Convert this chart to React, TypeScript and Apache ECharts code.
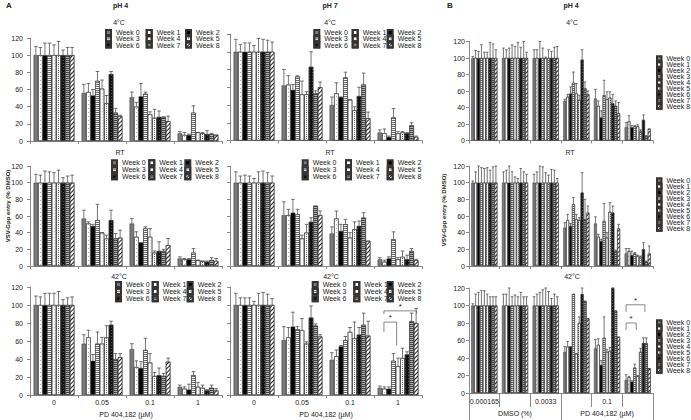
import React, { useEffect, useRef } from 'react';
import * as echarts from 'echarts';

const FONT = '"Liberation Sans", Arial, sans-serif';

const weeks = ['Week 0', 'Week 1', 'Week 2', 'Week 3', 'Week 4', 'Week 5', 'Week 6', 'Week 7', 'Week 8'];
const doseA = ['0', '0.05', '0.1', '1'];
const doseB = ['0.000165', '', '0.0033', '', '0.1', ''];
const groupB = ['DMSO (%)', 'PD 404,182 (µM)'];
const Y_MIN = 0;
const Y_MAX = 120;
const Y_STEP = 20;
const H = [100, 100, 100, 100, 100, 100, 100, 100, 100];

// values [dose group][week]
const pH4_4C_val = [H, [56, 57, 53, 70, 61, 44, 78, 33, 29], [51, 40, 52, 55, 31, 27, 28, 28, 23], [9, 7, 7, 33, 10, 9, 8, 8, 7]];
const pH4_4C_err = [[10, 9, 14, 14, 12, 16, 6, 9, 9], [10, 10, 7, 11, 10, 9, 3, 5, 1], [6, 5, 15, 2, 3, 10, 7, 0, 6], [2, 3, 1, 8, 0, 1, 4, 1, 0]];

const pH4_RT_val = [H, [57, 51, 48, 55, 40, 33, 55, 33, 34], [51, 35, 28, 45, 35, 16, 18, 18, 25], [9, 8, 8, 16, 7, 6, 5, 7, 6]];
const pH4_RT_err = [[10, 9, 14, 13, 12, 15, 6, 8, 9], [10, 2, 2, 19, 0, 4, 12, 6, 9], [6, 6, 0, 2, 10, 2, 11, 2, 8], [2, 1, 1, 5, 0, 0, 1, 3, 3]];

const pH4_42C_val = [H, [57, 64, 38, 57, 57, 64, 78, 40, 42], [51, 31, 30, 50, 36, 21, 22, 21, 37], [9, 7, 6, 22, 9, 8, 5, 8, 5]];
const pH4_42C_err = [[10, 9, 13, 13, 13, 15, 6, 8, 9], [10, 8, 7, 13, 7, 13, 4, 6, 4], [6, 7, 7, 13, 10, 4, 8, 3, 4], [2, 2, 6, 4, 5, 3, 1, 3, 2]];

const pH7_4C_val = [H, [62, 63, 57, 72, 52, 52, 83, 53, 60], [40, 53, 49, 71, 46, 34, 50, 63, 25], [9, 8, 4, 26, 8, 9, 8, 17, 4]];
const pH7_4C_err = [[14, 8, 10, 10, 7, 15, 14, 13, 11], [18, 10, 6, 1, 15, 3, 17, 3, 6], [9, 12, 0, 6, 0, 4, 10, 13, 7], [3, 5, 1, 10, 2, 1, 1, 3, 1]];

const pH7_RT_val = [H, [61, 61, 64, 62, 33, 40, 53, 72, 61], [39, 57, 42, 50, 34, 44, 48, 58, 30], [8, 5, 9, 32, 8, 11, 8, 18, 7]];
const pH7_RT_err = [[13, 8, 9, 8, 5, 13, 14, 12, 8], [16, 7, 16, 6, 4, 10, 5, 0, 5], [8, 9, 8, 6, 6, 9, 6, 6, 0], [2, 2, 2, 9, 2, 7, 5, 3, 1]];

const pH7_42C_val = [H, [61, 64, 76, 73, 72, 57, 86, 77, 65], [39, 43, 54, 61, 70, 63, 67, 78, 66], [8, 7, 7, 38, 32, 41, 45, 82, 80]];
const pH7_42C_err = [[13, 8, 8, 8, 4, 13, 14, 12, 7], [15, 11, 16, 3, 13, 2, 13, 2, 2], [8, 7, 1, 4, 5, 18, 8, 13, 16], [2, 2, 2, 8, 9, 11, 3, 9, 16]];
// [group, fromWeek, toWeek, bracketTop, leftEnd, rightEnd]
const pH7_42C_sig = [[3, 0.9, 3.7, 81, 70, 55], [3, 0.9, 8.1, 93.5, 90, 90.6]];

const B_4C_val = [H, H, H, [48, 53, 57, 70, 57, 49, 98, 63, 56], [51, 42, 28, 55, 50, 52, 45, 42, 33], [16, 23, 16, 17, 17, 11, 25, 5, 14]];
const B_4C_err = [[2, 9, 8, 16, 7, 7, 19, 17, 10], [12, 10, 12, 16, 14, 19, 13, 20, 7], [10, 10, 20, 12, 1, 10, 8, 13, 14], [2, 3, 8, 13, 12, 6, 12, 8, 4], [11, 6, 8, 18, 9, 7, 11, 6, 13], [6, 7, 2, 1, 2, 2, 6, 1, 0]];

const B_RT_val = [H, H, H, [46, 55, 48, 74, 56, 55, 88, 56, 64], [51, 35, 30, 54, 34, 65, 64, 18, 45], [15, 18, 13, 15, 12, 11, 20, 5, 15]];
const B_RT_err = [[2, 13, 20, 18, 17, 18, 15, 19, 20], [13, 15, 20, 13, 7, 5, 17, 13, 10], [10, 13, 20, 19, 12, 9, 16, 15, 5], [6, 7, 3, 8, 6, 3, 24, 24, 8], [8, 3, 2, 21, 6, 11, 8, 1, 5], [6, 3, 5, 1, 1, 1, 8, 1, 9]];

const B_42C_val = [H, H, H, [47, 53, 53, 113, 45, 80, 113, 105, 85], [51, 55, 32, 63, 47, 48, 120, 94, 64], [15, 18, 13, 29, 19, 47, 57, 57, 28]];
const B_42C_err = [[2, 13, 15, 17, 17, 13, 10, 10, 10], [13, 13, 20, 10, 12, 10, 15, 10, 10], [10, 13, 15, 18, 20, 16, 8, 13, 10], [6, 6, 0, 0, 0, 7, 7, 0, 0], [10, 7, 5, 24, 3, 4, 0, 0, 0], [6, 1, 1, 4, 1, 4, 6, 6, 0]];
const B_42C_sig = [[5, 0, 3.5, 80, 72, 72], [5, 0, 6.5, 100.8, 92.5, 92.5]];

const GAP = 0.15;

const colors = ['#7a7a7a', '#ffffff', '#000000', '#ffffff', '#ffffff', '#ffffff', '#111111', '#b5b5b5', '#ffffff'];
const decals: any[] = [
  null,
  { symbol: 'rect', symbolSize: 1, color: '#aaaaaa', dashArrayX: [1, 3], dashArrayY: [1, 3] },
  null,
  { symbol: 'rect', symbolSize: 1, color: '#666666', dashArrayX: [1, 0], dashArrayY: [1, 1] },
  { symbol: 'rect', symbolSize: 1, color: '#cccccc', dashArrayX: [1, 2], dashArrayY: [1, 2] },
  { symbol: 'rect', symbolSize: 1, color: '#666666', dashArrayX: [1, 1], dashArrayY: [1, 1] },
  { symbol: 'rect', symbolSize: 1, color: '#555555', dashArrayX: [1, 2], dashArrayY: [1, 2] },
  { symbol: 'rect', symbolSize: 1, color: '#444444', dashArrayX: [1, 0], dashArrayY: [1, 1] },
  { symbol: 'rect', symbolSize: 1, color: '#222222', dashArrayX: [1, 0], dashArrayY: [1, 1.5], rotation: -Math.PI / 4 },
];

const panels = [
  { val: pH4_4C_val, err: pH4_4C_err, cats: doseA, grid: { left: 30, top: 38, width: 192, height: 103 }, yLabel: true, xLabel: false, sig: null },
  { val: pH4_RT_val, err: pH4_RT_err, cats: doseA, grid: { left: 30, top: 166, width: 192, height: 100 }, yLabel: true, xLabel: false, sig: null },
  { val: pH4_42C_val, err: pH4_42C_err, cats: doseA, grid: { left: 30, top: 287, width: 192, height: 108 }, yLabel: true, xLabel: true, sig: null },
  { val: pH7_4C_val, err: pH7_4C_err, cats: doseA, grid: { left: 230, top: 34, width: 192, height: 106.5 }, yLabel: false, xLabel: false, sig: null },
  { val: pH7_RT_val, err: pH7_RT_err, cats: doseA, grid: { left: 230, top: 166, width: 192, height: 100 }, yLabel: false, xLabel: false, sig: null },
  { val: pH7_42C_val, err: pH7_42C_err, cats: doseA, grid: { left: 230, top: 287, width: 192, height: 108 }, yLabel: false, xLabel: true, sig: pH7_42C_sig },
  { val: B_4C_val, err: B_4C_err, cats: doseB, grid: { left: 469, top: 41.5, width: 184, height: 99 }, yLabel: true, xLabel: false, sig: null, b: true },
  { val: B_RT_val, err: B_RT_err, cats: doseB, grid: { left: 469, top: 166, width: 184, height: 100 }, yLabel: true, xLabel: false, sig: null, b: true },
  { val: B_42C_val, err: B_42C_err, cats: doseB, grid: { left: 469, top: 288, width: 184, height: 105 }, yLabel: true, xLabel: true, sig: B_42C_sig, b: true },
];

// legend placement: column x positions and first-row centre / row step
const aLegends = [
  { cols: [105, 145.7, 185], y0: 33, step: 7.3 },
  { cols: [111, 148.3, 184.3], y0: 163.3, step: 8 },
  { cols: [115, 151.7, 186.7], y0: 285, step: 8.1 },
  { cols: [313.3, 351.7, 386.7], y0: 33, step: 7.3 },
  { cols: [301.7, 345, 386.7], y0: 163.3, step: 8 },
  { cols: [311.7, 353.3, 386.7], y0: 285, step: 8.1 },
];
const bLegendTops = [59, 181, 323];

function barX(api: any, cat: number, w: number) {
  const band = api.size([1, 0])[0];
  const area = band * (1 - GAP);
  const bw = area / 9;
  const c = api.coord([cat, 0])[0];
  return { x: c - area / 2 + (w + 0.5) * bw, bw };
}

function buildOption() {
  const grid: any[] = [];
  const xAxis: any[] = [];
  const yAxis: any[] = [];
  const series: any[] = [];
  const axisColor = '#8a8a8a';

  panels.forEach((p: any, pi) => {
    grid.push({ ...p.grid });
    const isB = !!p.b;
    const isAbottom = p.xLabel && !isB;
    xAxis.push({
      gridIndex: pi,
      type: 'category',
      data: p.cats,
      axisLine: { lineStyle: { color: axisColor, width: 1 } },
      axisTick: { show: true, interval: 0, length: isB && p.xLabel ? 14 : 3, lineStyle: { color: axisColor } },
      axisLabel: { show: p.xLabel, interval: 0, fontSize: 7, color: '#222', margin: isB ? 5 : 4, fontFamily: FONT },
      name: isAbottom ? 'PD 404,182 (µM)' : '',
      nameLocation: 'middle',
      nameGap: 16,
      nameTextStyle: { fontSize: 7, color: '#222', fontFamily: FONT },
    });
    yAxis.push({
      gridIndex: pi,
      type: 'value',
      min: Y_MIN,
      max: Y_MAX,
      interval: Y_STEP,
      splitLine: { show: false },
      axisLine: { show: true, lineStyle: { color: axisColor, width: 1 } },
      axisTick: { show: true, length: 3, lineStyle: { color: axisColor } },
      axisLabel: { show: p.yLabel, fontSize: 7, color: '#222', margin: isB ? 4 : 7, fontFamily: FONT },
    });
    weeks.forEach((wName, w) => {
      series.push({
        type: 'bar',
        name: wName,
        xAxisIndex: pi,
        yAxisIndex: pi,
        barGap: '0%',
        barCategoryGap: (GAP * 100) + '%',
        data: p.val.map((g: number[]) => g[w]),
        itemStyle: { color: colors[w], borderColor: '#333', borderWidth: 0.5, decal: decals[w] || undefined },
        emphasis: { disabled: true },
        z: 2,
      });
    });
    const errData: number[][] = [];
    p.val.forEach((g: number[], gi: number) => g.forEach((v, w) => errData.push([gi, w, v, p.err[gi][w]])));
    series.push({
      type: 'custom',
      xAxisIndex: pi,
      yAxisIndex: pi,
      silent: true,
      z: 3,
      data: errData,
      encode: { x: 0, y: 2 },
      renderItem: (params: any, api: any) => {
        const cat = api.value(0), w = api.value(1), v = api.value(2), e = api.value(3);
        const { x, bw } = barX(api, cat, w);
        const y0 = api.coord([cat, v])[1];
        const y1 = api.coord([cat, v + e])[1];
        const cap = Math.max(1.3, bw * 0.4);
        const st = { stroke: '#3a3a3a', lineWidth: 0.7 };
        return {
          type: 'group',
          children: [
            { type: 'line', shape: { x1: x, y1: y0, x2: x, y2: y1 }, style: st },
            { type: 'line', shape: { x1: x - cap, y1: y1, x2: x + cap, y2: y1 }, style: st },
          ],
        };
      },
    });
    if (p.sig) {
      series.push({
        type: 'custom',
        xAxisIndex: pi,
        yAxisIndex: pi,
        silent: true,
        z: 4,
        data: p.sig,
        encode: { x: 0, y: 3 },
        renderItem: (params: any, api: any) => {
          const g = api.value(0), a = api.value(1), b = api.value(2), top = api.value(3), le = api.value(4), re = api.value(5);
          const xa = barX(api, g, a).x;
          const xb = barX(api, g, b).x;
          const yt = api.coord([g, top])[1];
          const yl = api.coord([g, le])[1];
          const yr = api.coord([g, re])[1];
          return {
            type: 'group',
            children: [
              { type: 'polyline', shape: { points: [[xa, yl], [xa, yt], [xb, yt], [xb, yr]] }, style: { stroke: '#555', lineWidth: 0.7, fill: 'none' } },
              { type: 'text', x: (xa + xb) / 2, y: yt - 0.5, style: { text: '*', fontSize: 8, fill: '#222', align: 'center', verticalAlign: 'bottom', fontFamily: FONT } },
            ],
          };
        },
      });
    }
  });

  // second level category axis of panel B bottom
  xAxis.push({
    gridIndex: 8,
    type: 'category',
    data: groupB,
    position: 'bottom',
    offset: 14,
    axisLine: { show: false },
    axisTick: { show: true, interval: 0, length: 13, lineStyle: { color: '#8a8a8a' } },
    axisLabel: { fontSize: 7, color: '#222', margin: 3, fontFamily: FONT },
  });

  const legend: any[] = [];
  const legText = { fontSize: 7, lineHeight: 7, color: '#222', fontFamily: FONT };
  const ITEM_H = 8; // measured height of one legend row at this font size
  aLegends.forEach((l) => {
    l.cols.forEach((cx, c) => {
      legend.push({
        data: [weeks[c], weeks[c + 3], weeks[c + 6]],
        left: cx,
        top: l.y0 - ITEM_H / 2,
        orient: 'vertical',
        icon: 'rect',
        itemWidth: 5,
        itemHeight: 5,
        itemGap: l.step - ITEM_H,
        padding: 0,
        selectedMode: false,
        textStyle: legText,
      });
    });
  });
  bLegendTops.forEach((cy) => {
    legend.push({
      data: weeks,
      left: 656,
      top: cy - ITEM_H / 2,
      orient: 'vertical',
      icon: 'rect',
      itemWidth: 4.5,
      itemHeight: 4.5,
      itemGap: 7 - ITEM_H,
      padding: 0,
      selectedMode: false,
      textStyle: legText,
    });
  });

  const txt = (text: string, x: number, y: number, bold: boolean, size: number, rot = 0) => ({
    type: 'text',
    x,
    y,
    rotation: rot,
    style: { text, fontSize: size, fontWeight: bold ? 'bold' : 'normal', fill: '#222', align: 'center', verticalAlign: 'middle', fontFamily: FONT },
  });

  const graphic = [
    txt('A', 9, 5, true, 8),
    txt('pH 4', 120.5, 5, true, 7),
    txt('pH 7', 330, 5, true, 7),
    txt('B', 450, 5, true, 8),
    txt('pH 4', 571, 5, true, 7),
    txt('4°C', 119, 22.7, false, 7),
    txt('4°C', 330, 22.7, false, 7),
    txt('4°C', 572, 22.7, false, 7),
    txt('RT', 120, 152.7, false, 7),
    txt('RT', 330, 152.7, false, 7),
    txt('RT', 570, 152.7, false, 7),
    txt('42°C', 119, 276.5, false, 7),
    txt('42°C', 331, 276.5, false, 7),
    txt('42°C', 572, 276.7, false, 7),
    txt('VSV-Gpp entry (% DMSO)', 8, 206, true, 6, Math.PI / 2),
    txt('VSV-Gpp entry (% DMSO)', 443.5, 210, true, 6, Math.PI / 2),
  ];

  return {
    animation: false,
    textStyle: { fontFamily: FONT },
    grid,
    xAxis,
    yAxis,
    series,
    legend,
    graphic,
  };
}

export default function App() {
  const ref = useRef<HTMLDivElement>(null);
  useEffect(() => {
    if (!ref.current) return;
    const chart = echarts.init(ref.current, undefined, { renderer: 'svg' });
    chart.setOption(buildOption() as any);
    return () => chart.dispose();
  }, []);
  return <div ref={ref} style={{ position: 'absolute', left: 0, top: 0, width: 691, height: 420, background: '#fff' }} />;
}
